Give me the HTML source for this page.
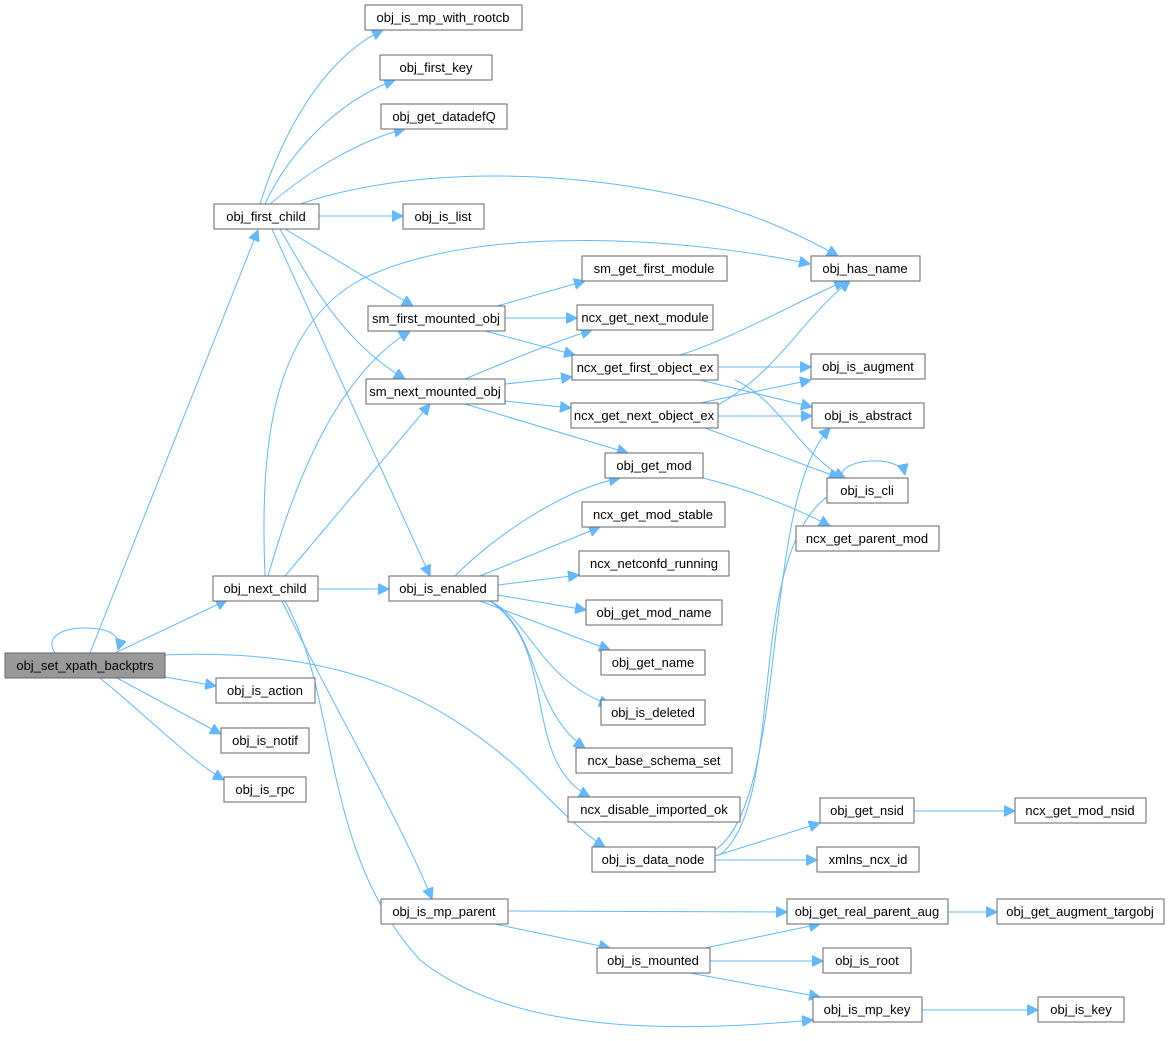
<!DOCTYPE html>
<html><head><meta charset="utf-8"><style>
html,body{margin:0;padding:0;background:#fff;width:1169px;height:1041px;overflow:hidden}
text{font-family:"Liberation Sans",Arial,sans-serif;font-size:13px;fill:#000}
rect{fill:#fff;stroke:#666;stroke-width:1}
path{fill:none;stroke:#63b8ff;stroke-width:1}
</style></head><body>
<svg width="1169" height="1041" viewBox="0 0 1169 1041" xmlns="http://www.w3.org/2000/svg">
<defs><marker id="a" viewBox="0 0 10 10" refX="10" refY="5" markerWidth="11" markerHeight="11" markerUnits="userSpaceOnUse" orient="auto"><path d="M0,0 L10,5 L0,10 z" style="fill:#63b8ff;stroke:#63b8ff"/></marker></defs>
<g marker-end="url(#a)">
<path d="M55,653 C45,638 60,628 85,628 C110,628 122,636 118,650"/>
<path d="M90,653 L258,230"/>
<path d="M115,653 L227,600"/>
<path d="M165,677 L216,686"/>
<path d="M117,678 L221,734"/>
<path d="M100,678 C140,710 190,760 224,780"/>
<path d="M165,655 C330,648 430,690 520,770 C560,810 585,835 605,847"/>
<path d="M260,204 C280,140 320,60 383,30"/>
<path d="M265,204 C290,150 340,100 395,80"/>
<path d="M270,204 C310,170 360,140 405,129"/>
<path d="M300,204 C400,170 550,165 700,200 C760,215 810,240 838,256"/>
<path d="M319,216 L403,216"/>
<path d="M285,229 L413,306"/>
<path d="M280,229 C310,280 340,340 405,379"/>
<path d="M272,229 L430,576"/>
<path d="M265,576 C260,450 270,330 360,280 C480,220 700,240 810,264"/>
<path d="M268,576 C290,500 330,380 410,331"/>
<path d="M285,576 L430,404"/>
<path d="M318,589 L389,589"/>
<path d="M282,601 C330,700 400,820 432,899"/>
<path d="M285,601 C340,700 320,850 420,960 C520,1040 700,1030 813,1020"/>
<path d="M497,306 L585,281"/>
<path d="M505,318 L577,318"/>
<path d="M485,331 L575,355"/>
<path d="M465,379 C510,360 560,340 592,330"/>
<path d="M505,384 L572,377"/>
<path d="M505,401 L571,408"/>
<path d="M465,404 L628,453"/>
<path d="M680,355 C730,340 800,300 845,281"/>
<path d="M718,367 L811,367"/>
<path d="M700,380 L812,407"/>
<path d="M735,380 C780,400 800,455 845,478"/>
<path d="M718,405 C780,370 800,320 850,281"/>
<path d="M700,403 L811,380"/>
<path d="M718,416 L812,416"/>
<path d="M705,428 L840,478"/>
<path d="M703,478 C750,490 790,505 830,526"/>
<path d="M843,478 C833,460 900,452 905,475"/>
<path d="M455,576 C490,540 560,490 620,478"/>
<path d="M480,576 L600,527"/>
<path d="M498,585 L579,575"/>
<path d="M498,595 L586,610"/>
<path d="M480,601 L610,650"/>
<path d="M490,601 C530,620 540,680 610,705"/>
<path d="M490,601 C540,630 530,710 585,748"/>
<path d="M490,601 C560,650 520,760 590,797"/>
<path d="M715,850 C790,800 760,500 830,428"/>
<path d="M720,855 C790,800 740,540 838,490"/>
<path d="M715,856 L820,823"/>
<path d="M715,860 L817,860"/>
<path d="M914,811 L1015,811"/>
<path d="M508,911 L787,912"/>
<path d="M495,924 L610,948"/>
<path d="M705,948 L820,924"/>
<path d="M710,961 L823,961"/>
<path d="M690,973 L820,997"/>
<path d="M948,912 L997,912"/>
<path d="M922,1010 L1038,1010"/>
</g>
<g text-anchor="middle">
<rect x="5" y="653" width="160" height="25" style="fill:#999"/><text x="85" y="670">obj_set_xpath_backptrs</text>
<rect x="365" y="5" width="157" height="25"/><text x="443" y="22">obj_is_mp_with_rootcb</text>
<rect x="380" y="55" width="112" height="25"/><text x="436" y="72">obj_first_key</text>
<rect x="381" y="104" width="126" height="25"/><text x="444" y="121">obj_get_datadefQ</text>
<rect x="214" y="204" width="105" height="25"/><text x="266" y="221">obj_first_child</text>
<rect x="403" y="204" width="81" height="25"/><text x="443" y="221">obj_is_list</text>
<rect x="811" y="256" width="109" height="25"/><text x="865" y="273">obj_has_name</text>
<rect x="582" y="256" width="145" height="25"/><text x="654" y="273">sm_get_first_module</text>
<rect x="368" y="306" width="137" height="25"/><text x="436" y="323">sm_first_mounted_obj</text>
<rect x="577" y="305" width="136" height="25"/><text x="645" y="322">ncx_get_next_module</text>
<rect x="572" y="355" width="146" height="25"/><text x="645" y="372">ncx_get_first_object_ex</text>
<rect x="811" y="354" width="114" height="25"/><text x="868" y="371">obj_is_augment</text>
<rect x="366" y="379" width="139" height="25"/><text x="435" y="396">sm_next_mounted_obj</text>
<rect x="571" y="403" width="147" height="25"/><text x="644" y="420">ncx_get_next_object_ex</text>
<rect x="812" y="403" width="112" height="25"/><text x="868" y="420">obj_is_abstract</text>
<rect x="605" y="453" width="98" height="25"/><text x="654" y="470">obj_get_mod</text>
<rect x="827" y="478" width="81" height="25"/><text x="867" y="495">obj_is_cli</text>
<rect x="582" y="502" width="143" height="25"/><text x="653" y="519">ncx_get_mod_stable</text>
<rect x="796" y="526" width="143" height="25"/><text x="867" y="543">ncx_get_parent_mod</text>
<rect x="579" y="551" width="150" height="25"/><text x="654" y="568">ncx_netconfd_running</text>
<rect x="213" y="576" width="105" height="25"/><text x="265" y="593">obj_next_child</text>
<rect x="389" y="576" width="109" height="25"/><text x="443" y="593">obj_is_enabled</text>
<rect x="586" y="600" width="136" height="25"/><text x="654" y="617">obj_get_mod_name</text>
<rect x="601" y="650" width="104" height="25"/><text x="653" y="667">obj_get_name</text>
<rect x="216" y="678" width="99" height="25"/><text x="265" y="695">obj_is_action</text>
<rect x="601" y="700" width="104" height="25"/><text x="653" y="717">obj_is_deleted</text>
<rect x="221" y="728" width="88" height="25"/><text x="265" y="745">obj_is_notif</text>
<rect x="576" y="748" width="156" height="25"/><text x="654" y="765">ncx_base_schema_set</text>
<rect x="224" y="777" width="82" height="25"/><text x="265" y="794">obj_is_rpc</text>
<rect x="568" y="797" width="172" height="25"/><text x="654" y="814">ncx_disable_imported_ok</text>
<rect x="820" y="798" width="94" height="25"/><text x="867" y="815">obj_get_nsid</text>
<rect x="1015" y="798" width="131" height="25"/><text x="1080" y="815">ncx_get_mod_nsid</text>
<rect x="592" y="847" width="123" height="25"/><text x="653" y="864">obj_is_data_node</text>
<rect x="817" y="847" width="102" height="25"/><text x="868" y="864">xmlns_ncx_id</text>
<rect x="381" y="899" width="127" height="25"/><text x="444" y="916">obj_is_mp_parent</text>
<rect x="787" y="899" width="161" height="25"/><text x="867" y="916">obj_get_real_parent_aug</text>
<rect x="997" y="899" width="167" height="25"/><text x="1080" y="916">obj_get_augment_targobj</text>
<rect x="597" y="948" width="113" height="25"/><text x="653" y="965">obj_is_mounted</text>
<rect x="823" y="948" width="88" height="25"/><text x="867" y="965">obj_is_root</text>
<rect x="813" y="997" width="109" height="25"/><text x="867" y="1014">obj_is_mp_key</text>
<rect x="1038" y="997" width="86" height="25"/><text x="1081" y="1014">obj_is_key</text>
</g>
</svg>
</body></html>
